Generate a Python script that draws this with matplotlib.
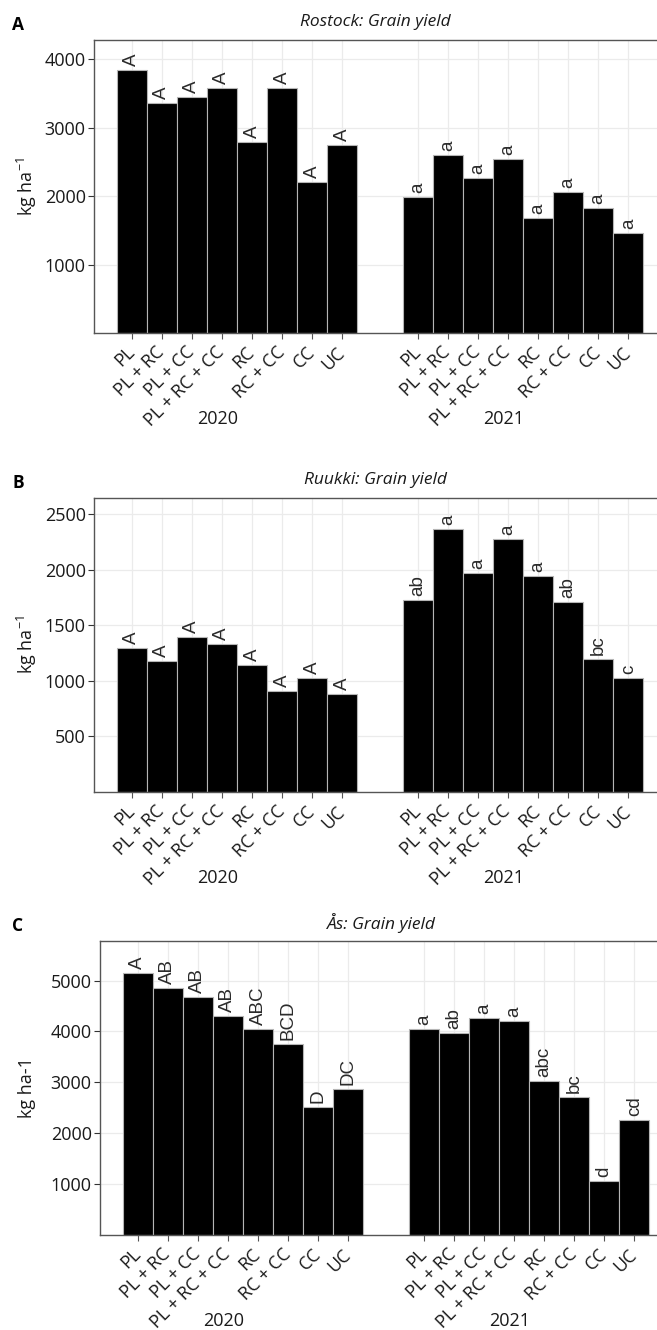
import numpy as np
import matplotlib
matplotlib.use('Agg')
import matplotlib.pyplot as plt
from matplotlib import transforms

# Datos
treatments = ['PL', 'PL + RC', 'PL + CC', 'PL + RC + CC', 'RC', 'RC + CC', 'CC', 'UC']
years = ['2020', '2021']

rostock_2020 = [3840, 3358, 3440, 3570, 2793, 3580, 2203, 2744]
rostock_2021 = [1985, 2604, 2261, 2546, 1679, 2059, 1824, 1453]
rostock_let_2020 = ['A', 'A', 'A', 'A', 'A', 'A', 'A', 'A']
rostock_let_2021 = ['a', 'a', 'a', 'a', 'a', 'a', 'a', 'a']

ruukki_2020 = [1297, 1175, 1396, 1333, 1140, 905, 1025, 885]
ruukki_2021 = [1731, 2368, 1970, 2272, 1946, 1713, 1195, 1024]
ruukki_let_2020 = ['A', 'A', 'A', 'A', 'A', 'A', 'A', 'A']
ruukki_let_2021 = ['ab', 'a', 'a', 'a', 'a', 'ab', 'bc', 'c']

as_2020 = [5157, 4863, 4686, 4300, 4039, 3759, 2523, 2868]
as_2021 = [4039, 3961, 4255, 4196, 3033, 2712, 1053, 2261]
as_let_2020 = ['A', 'AB', 'AB', 'AB', 'ABC', 'BCD', 'D', 'DC']
as_let_2021 = ['a', 'ab', 'a', 'a', 'abc', 'bc', 'd', 'cd']

plt.rcParams['font.family'] = ['Open Sans', 'DejaVu Sans']
plt.rcParams['mathtext.default'] = 'regular'

W, H = 657, 1330
fig = plt.figure(figsize=(W / 100, H / 100), dpi=100)

pos20 = np.arange(len(treatments))
pos21 = pos20 + 9.5
xlim = (-1.25, 18.5)
px_per_unit = 30.1
fs = 13


def make_panel(tag, title, left, top, bottom, v20, v21, l20, l21, ytop, yticks, ylabel):
    width = (xlim[1] - xlim[0]) * px_per_unit
    ax = fig.add_axes([left / W, 1 - bottom / H, width / W, (bottom - top) / H])
    ax.set_xlim(xlim)
    ax.set_ylim(0, ytop)

    for pos, vals, lets in [(pos20, v20, l20), (pos21, v21, l21)]:
        ax.bar(pos, vals, width=1.0, color='black', edgecolor='#b5b5b5', linewidth=0.8, zorder=2)
        off = transforms.offset_copy(ax.transData, fig=fig, y=4, units='dots')
        for x, v, s in zip(pos, vals, lets):
            ax.text(x, v, s, transform=off, rotation=90, ha='center', va='bottom',
                    fontsize=13.5, color='#2a2a2a', family='Liberation Sans')

    ax.set_xticks(np.concatenate([pos20, pos21]))
    ax.set_xticklabels(treatments * 2, rotation=45, ha='right', va='center',
                       rotation_mode='anchor', fontsize=fs, color='#1a1a1a')
    ax.set_yticks(yticks)
    ax.set_yticklabels([str(t) for t in yticks], fontsize=fs, color='#1a1a1a')
    ax.tick_params(axis='x', length=4, width=0.8, color='#555555', pad=8)
    ax.tick_params(axis='y', length=4, width=0.8, color='#333333', pad=2)

    ax.grid(True, color='#ebebeb', linewidth=0.9, zorder=0)
    ax.set_axisbelow(True)
    for side in ['left', 'bottom', 'top']:
        ax.spines[side].set_color('#555555')
        ax.spines[side].set_linewidth(1.0)
    ax.spines['right'].set_visible(False)

    # Etiquetas de año
    for pos, yr in zip([pos20, pos21], years):
        ax.annotate(yr, xy=(pos.mean() - 0.65, 0), xycoords=('data', 'axes fraction'),
                    xytext=(0, -86), textcoords='offset pixels',
                    ha='center', va='center', fontsize=fs, color='#1a1a1a')

    # Título, letra de panel y eje y
    fig.text((left + 375 - 94) / W, 1 - (top - 18) / H, title, ha='center', va='center',
             fontsize=12.5, style='italic', color='#1a1a1a')
    fig.text(12 / W, 1 - (top - 15) / H, tag, ha='left', va='center',
             fontsize=12.5, fontweight='bold', color='black')
    fig.text(27 / W, 1 - (top + bottom) / 2 / H, ylabel, rotation=90, ha='center', va='center',
             fontsize=fs, color='#1a1a1a')
    return ax


make_panel('A', 'Rostock: Grain yield', 94, 40, 333, rostock_2020, rostock_2021,
           rostock_let_2020, rostock_let_2021, 4278, [1000, 2000, 3000, 4000], 'kg ha$^{-1}$')
make_panel('B', 'Ruukki: Grain yield', 94, 498, 792, ruukki_2020, ruukki_2021,
           ruukki_let_2020, ruukki_let_2021, 2644, [500, 1000, 1500, 2000, 2500], 'kg ha$^{-1}$')
make_panel('C', 'Ås: Grain yield', 100, 941, 1235, as_2020, as_2021,
           as_let_2020, as_let_2021, 5778, [1000, 2000, 3000, 4000, 5000], 'kg ha-1')

fig.savefig('out.png', dpi=100)
